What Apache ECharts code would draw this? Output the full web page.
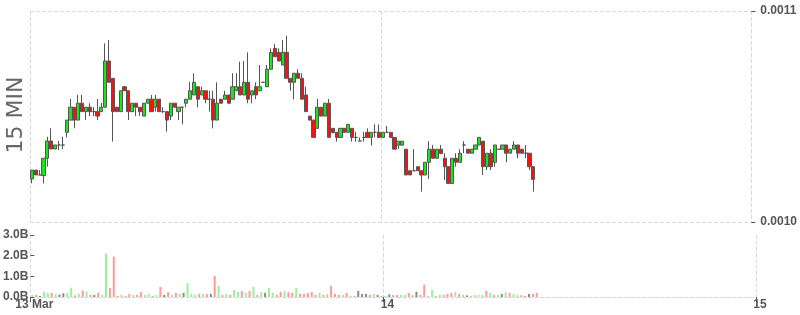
<!DOCTYPE html>
<html>
<head>
<meta charset="utf-8">
<script src="https://cdn.jsdelivr.net/npm/echarts@6/dist/echarts.min.js"></script>
<style>html,body{margin:0;padding:0;background:#fff;}#chart{width:800px;height:315px;}</style>
</head>
<body>
<div id="chart"></div>
<script>
// ---- data ----
const startTime = Date.UTC(2016, 2, 13, 1, 15);   // first 15-min bar opens
const endTime = Date.UTC(2016, 2, 15, 0, 0);
const barMinutes = 15;
const tickTimes = [Date.UTC(2016, 2, 13, 1, 15), Date.UTC(2016, 2, 14), Date.UTC(2016, 2, 15)];
const tickLabels = ['13 Mar', '14', '15'];
const priceTicks = [0.0010, 0.0011];
const volumeTicksB = [0, 1, 2, 3];
const panelTitle = '15 MIN';

const opens = [0.0010204,0.0010246,0.0010223,0.0010220,0.0010302,0.0010384,0.0010346,0.0010365,0.0010365,0.0010425,
0.0010483,0.0010544,0.0010483,0.0010563,0.0010523,0.0010544,0.0010523,0.0010523,0.0010523,0.0010544,
0.0010763,0.0010681,0.0010544,0.0010523,0.0010641,0.0010622,0.0010523,0.0010563,0.0010544,0.0010502,
0.0010563,0.0010582,0.0010544,0.0010582,0.0010523,0.0010523,0.0010502,0.0010563,0.0010523,0.0010544,
0.0010563,0.0010582,0.0010602,0.0010641,0.0010602,0.0010622,0.0010582,0.0010582,0.0010483,0.0010582,
0.0010582,0.0010602,0.0010582,0.0010622,0.0010641,0.0010602,0.0010662,0.0010602,0.0010641,0.0010622,
0.0010662,0.0010641,0.0010724,0.0010823,0.0010804,0.0010744,0.0010804,0.0010681,0.0010662,0.0010705,
0.0010681,0.0010602,0.0010502,0.0010483,0.0010444,0.0010544,0.0010502,0.0010563,0.0010444,0.0010425,
0.0010401,0.0010444,0.0010425,0.0010444,0.0010401,0.0010384,0.0010401,0.0010425,0.0010401,0.0010425,
0.0010425,0.0010401,0.0010425,0.0010425,0.0010401,0.0010364,0.0010364,0.0010345,0.0010243,0.0010243,
0.0010262,0.0010243,0.0010223,0.0010283,0.0010345,0.0010302,0.0010345,0.0010302,0.0010262,0.0010183,
0.0010302,0.0010283,0.0010365,0.0010345,0.0010326,0.0010345,0.0010365,0.0010383,0.0010262,0.0010326,
0.0010283,0.0010345,0.0010345,0.0010365,0.0010326,0.0010345,0.0010365,0.0010345,0.0010326,0.0010326,0.0010262];

const closes = [0.0010246,0.0010223,0.0010223,0.0010302,0.0010384,0.0010346,0.0010365,0.0010365,0.0010365,0.0010483,
0.0010544,0.0010483,0.0010563,0.0010523,0.0010544,0.0010523,0.0010523,0.0010502,0.0010544,0.0010763,
0.0010662,0.0010523,0.0010523,0.0010622,0.0010622,0.0010523,0.0010563,0.0010544,0.0010523,0.0010563,
0.0010582,0.0010523,0.0010582,0.0010523,0.0010523,0.0010483,0.0010563,0.0010544,0.0010544,0.0010544,
0.0010582,0.0010622,0.0010662,0.0010582,0.0010622,0.0010582,0.0010582,0.0010483,0.0010563,0.0010563,
0.0010602,0.0010563,0.0010641,0.0010641,0.0010602,0.0010662,0.0010582,0.0010622,0.0010602,0.0010641,
0.0010662,0.0010724,0.0010804,0.0010783,0.0010763,0.0010804,0.0010681,0.0010662,0.0010705,0.0010681,
0.0010582,0.0010523,0.0010483,0.0010401,0.0010544,0.0010502,0.0010563,0.0010401,0.0010423,0.0010401,
0.0010444,0.0010425,0.0010463,0.0010401,0.0010401,0.0010384,0.0010401,0.0010401,0.0010425,0.0010425,
0.0010401,0.0010425,0.0010425,0.0010401,0.0010345,0.0010383,0.0010383,0.0010223,0.0010223,0.0010243,
0.0010243,0.0010223,0.0010283,0.0010345,0.0010302,0.0010345,0.0010324,0.0010262,0.0010183,0.0010302,
0.0010283,0.0010326,0.0010365,0.0010326,0.0010345,0.0010365,0.0010401,0.0010262,0.0010326,0.0010262,
0.0010365,0.0010345,0.0010365,0.0010326,0.0010345,0.0010365,0.0010326,0.0010326,0.0010326,0.0010262,0.0010202];

const lows = [0.0010183,0.0010223,0.0010223,0.0010183,0.0010262,0.0010346,0.0010346,0.0010341,0.0010346,0.0010401,
0.0010483,0.0010444,0.0010483,0.0010523,0.0010483,0.0010502,0.0010502,0.0010483,0.0010523,0.0010544,
0.0010662,0.0010381,0.0010523,0.0010523,0.0010622,0.0010483,0.0010523,0.0010502,0.0010502,0.0010502,
0.0010563,0.0010523,0.0010523,0.0010523,0.0010517,0.0010428,0.0010483,0.0010544,0.0010483,0.0010463,
0.0010544,0.0010582,0.0010602,0.0010544,0.0010602,0.0010563,0.0010523,0.0010444,0.0010483,0.0010563,
0.0010582,0.0010563,0.0010582,0.0010622,0.0010602,0.0010602,0.0010563,0.0010563,0.0010582,0.0010622,
0.0010662,0.0010641,0.0010724,0.0010783,0.0010763,0.0010744,0.0010681,0.0010622,0.0010582,0.0010681,
0.0010582,0.0010523,0.0010483,0.0010401,0.0010444,0.0010502,0.0010502,0.0010401,0.0010423,0.0010381,
0.0010401,0.0010425,0.0010425,0.0010381,0.0010381,0.0010384,0.0010381,0.0010401,0.0010362,0.0010401,
0.0010401,0.0010401,0.0010425,0.0010401,0.0010345,0.0010345,0.0010364,0.0010223,0.0010223,0.0010243,
0.0010243,0.0010144,0.0010223,0.0010204,0.0010302,0.0010302,0.0010324,0.0010199,0.0010183,0.0010183,
0.0010262,0.0010283,0.0010326,0.0010326,0.0010326,0.0010345,0.0010365,0.0010223,0.0010246,0.0010246,
0.0010262,0.0010345,0.0010345,0.0010283,0.0010326,0.0010345,0.0010302,0.0010326,0.0010302,0.0010246,0.0010144];

const highs = [0.0010246,0.0010246,0.0010246,0.0010302,0.0010404,0.0010444,0.0010365,0.0010384,0.0010404,0.0010483,
0.0010583,0.0010544,0.0010602,0.0010602,0.0010544,0.0010563,0.0010544,0.0010583,0.0010564,0.0010847,
0.0010863,0.0010681,0.0010544,0.0010622,0.0010645,0.0010622,0.0010563,0.0010563,0.0010544,0.0010563,
0.0010582,0.0010602,0.0010602,0.0010582,0.0010544,0.0010523,0.0010563,0.0010563,0.0010544,0.0010544,
0.0010582,0.0010664,0.0010705,0.0010641,0.0010641,0.0010622,0.0010622,0.0010622,0.0010662,0.0010582,
0.0010622,0.0010602,0.0010705,0.0010705,0.0010760,0.0010763,0.0010804,0.0010622,0.0010662,0.0010744,
0.0010662,0.0010744,0.0010823,0.0010844,0.0010823,0.0010863,0.0010883,0.0010681,0.0010705,0.0010724,
0.0010705,0.0010641,0.0010502,0.0010483,0.0010583,0.0010544,0.0010563,0.0010583,0.0010444,0.0010425,
0.0010444,0.0010444,0.0010463,0.0010444,0.0010428,0.0010401,0.0010428,0.0010444,0.0010425,0.0010463,
0.0010463,0.0010425,0.0010455,0.0010425,0.0010401,0.0010383,0.0010383,0.0010345,0.0010243,0.0010345,
0.0010262,0.0010243,0.0010283,0.0010383,0.0010365,0.0010345,0.0010365,0.0010326,0.0010262,0.0010302,
0.0010326,0.0010345,0.0010383,0.0010345,0.0010345,0.0010365,0.0010401,0.0010383,0.0010326,0.0010345,
0.0010365,0.0010345,0.0010365,0.0010365,0.0010345,0.0010383,0.0010365,0.0010345,0.0010365,0.0010326,0.0010262];

// volume in billions
const volumesB = [0.1,0.1,0.05,0.26,0.2,0.2,0.14,0.12,0.18,0.2,
0.45,0.08,0.16,0.31,0.26,0.1,0.1,0.21,0.1,2.1,
0.44,1.95,0.05,0.1,0.05,0.15,0.1,0.1,0.24,0.1,
0.15,0.05,0.1,0.49,0.1,0.24,0.1,0.2,0.15,0.2,
0.68,0.15,0.1,0.15,0.15,0.15,0.15,1.02,0.54,0.1,
0.15,0.1,0.34,0.24,0.29,0.2,0.29,0.49,0.1,0.24,
0.2,0.44,0.2,0.1,0.24,0.29,0.24,0.2,0.44,0.15,
0.15,0.2,0.24,0.1,0.2,0.1,0.15,0.54,0.15,0.1,
0.1,0.2,0.06,0.05,0.29,0.15,0.15,0.1,0.15,0.1,
0.05,0.05,0.13,0.1,0.1,0.1,0.1,0.2,0.08,0.25,
0.1,0.59,0.05,0.34,0.05,0.1,0.1,0.15,0.2,0.24,
0.15,0.1,0.08,0.04,0.1,0.1,0.1,0.29,0.2,0.1,
0.1,0.15,0.24,0.2,0.15,0.1,0.08,0.05,0.15,0.15,0.2];

// ---- build ----
const barMs = barMinutes * 60 * 1000;
const times = opens.map((_, i) => startTime + (i + 0.5) * barMs);
const candleData = opens.map((o, i) => [times[i], o, closes[i], lows[i], highs[i]]);
const volColor = i => closes[i] > opens[i] ? '#9df09d' : (closes[i] < opens[i] ? '#ff9a9a' : '#8a8a8a');
const volumeData = volumesB.map((v, i) => ({ value: [times[i], v], itemStyle: { color: volColor(i) } }));

const gridDash = { type: 'dashed', color: '#d8d8d8', width: 1 };
const labelFont = { color: '#555', fontWeight: 'bold', fontSize: 12, fontFamily: 'Liberation Sans, Arial, sans-serif' };
const timeLabel = function (v) {
  let best = 0;
  for (let k = 1; k < tickTimes.length; k++) {
    if (Math.abs(tickTimes[k] - v) < Math.abs(tickTimes[best] - v)) best = k;
  }
  return tickLabels[best];
};

const chart = echarts.init(document.getElementById('chart'), null, { renderer: 'canvas' });
chart.setOption({
  animation: false,
  backgroundColor: '#fff',
  grid: [
    { left: 30, right: 44, top: 11, bottom: 93 },
    { left: 30, right: 44, top: 235, bottom: 18 }
  ],
  xAxis: [
    {
      type: 'value', gridIndex: 0, min: startTime, max: endTime, scale: true,
      axisLine: { show: false },
      axisTick: { show: false, customValues: tickTimes },
      axisLabel: { show: false, customValues: tickTimes, formatter: timeLabel },
      splitLine: { show: true, lineStyle: gridDash }
    },
    {
      type: 'value', gridIndex: 1, min: startTime, max: endTime, scale: true,
      axisLine: { show: true, lineStyle: gridDash },
      axisTick: { show: true, length: 5, customValues: tickTimes, lineStyle: { color: '#555' } },
      axisLabel: Object.assign({
        customValues: tickTimes, margin: 2, padding: [0, 0, 0, 8], formatter: timeLabel
      }, labelFont),
      splitLine: { show: true, lineStyle: gridDash }
    }
  ],
  yAxis: [
    {
      type: 'value', gridIndex: 0, position: 'right',
      min: priceTicks[0], max: priceTicks[1], interval: 0.0001,
      axisLine: { show: false },
      axisTick: { show: true, length: 4, lineStyle: { color: '#555' } },
      axisLabel: Object.assign({ margin: 9, formatter: v => v.toFixed(4) }, labelFont),
      splitLine: { show: true, lineStyle: gridDash }
    },
    {
      type: 'value', gridIndex: 1, position: 'left',
      min: volumeTicksB[0], max: volumeTicksB[volumeTicksB.length - 1], interval: 1,
      axisLine: { show: false },
      axisTick: { show: true, inside: true, length: 4, lineStyle: { color: '#555' } },
      axisLabel: Object.assign({ margin: 2, formatter: v => v.toFixed(1) + 'B' }, labelFont),
      splitLine: { show: false }
    }
  ],
  series: [
    {
      type: 'candlestick', xAxisIndex: 0, yAxisIndex: 0,
      data: candleData,
      encode: { x: 0, y: [1, 2, 3, 4] },
      barWidth: 3.6,
      itemStyle: { color: '#19e619', color0: '#f01414', borderColor: '#555', borderColor0: '#555', borderWidth: 1 }
    },
    {
      type: 'bar', xAxisIndex: 1, yAxisIndex: 1,
      data: volumeData,
      barWidth: 2
    }
  ],
  graphic: [
    {
      type: 'text', x: 16, y: 115, rotation: Math.PI / 2,
      style: { text: panelTitle, fill: '#666', fontSize: 22, fontFamily: 'DejaVu Sans, sans-serif', align: 'center', verticalAlign: 'middle' }
    }
  ]
});
</script>
</body>
</html>
